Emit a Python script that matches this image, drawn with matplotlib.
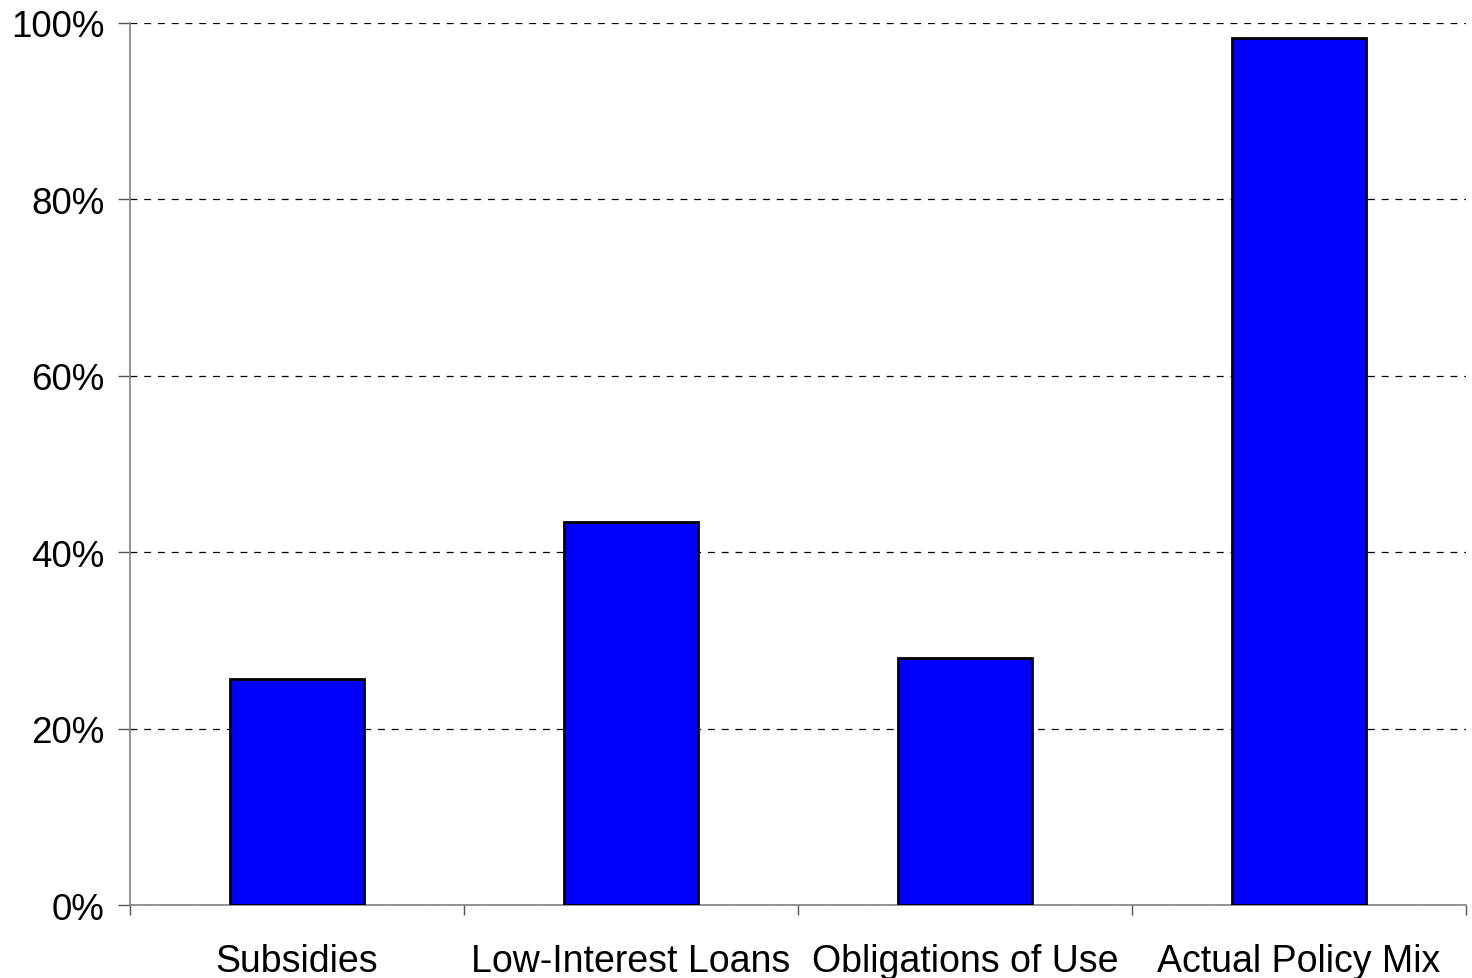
import matplotlib
matplotlib.use("Agg")
import matplotlib.pyplot as plt
from matplotlib.ticker import FixedLocator, PercentFormatter

categories = ["Subsidies", "Low-Interest Loans", "Obligations of Use", "Actual Policy Mix"]
values = [25.6, 43.4, 28.0, 98.3]
yticks = [0, 20, 40, 60, 80, 100]

plt.rcParams['font.family'] = ['Liberation Sans', 'DejaVu Sans']

fig = plt.figure(figsize=(14.72, 9.79), dpi=100)
ax = fig.add_axes([130 / 1472, 1 - 906 / 979, 1336 / 1472, 882 / 979])

x = list(range(len(categories)))
ax.bar(x, values, width=0.4, color="#0000ff", edgecolor="black", linewidth=2, zorder=3)

ax.set_xlim(-0.5, len(categories) - 0.5)
ax.set_ylim(0, 100)
ax.set_yticks(yticks)
ax.yaxis.set_major_formatter(PercentFormatter(decimals=0))
ax.yaxis.grid(True, color="black", linestyle=(0, (5.5, 5.5)), linewidth=0.9, zorder=0)

ax.set_xticks(x)
ax.set_xticklabels(categories)
ax.xaxis.set_minor_locator(FixedLocator([i - 0.5 for i in range(len(categories) + 1)]))
ax.tick_params(axis="x", which="major", length=0, pad=27, labelsize=27)
ax.tick_params(axis="x", which="minor", length=7.5, width=1, color="#555555", direction="out")
ax.tick_params(axis="y", which="major", length=8.5, width=1, color="#555555", pad=10, labelsize=26.5)

for s in ["top", "right"]:
    ax.spines[s].set_visible(False)
for s in ["left", "bottom"]:
    ax.spines[s].set_color("#808080")
    ax.spines[s].set_linewidth(1.2)

fig.savefig("out.png", dpi=100)
